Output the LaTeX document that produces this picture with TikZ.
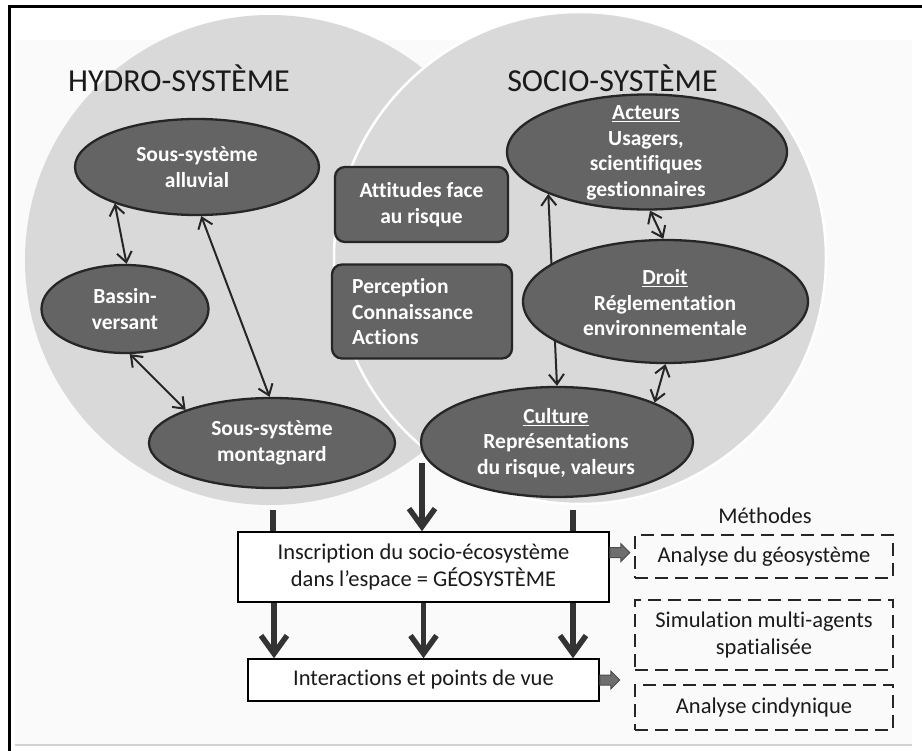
\documentclass[tikz,border=0pt]{standalone}
\usepackage{fontspec}
\setmainfont{Carlito}[Ligatures=NoCommon]
\usetikzlibrary{arrows.meta,calc,shapes.geometric}
\pgfdeclarelayer{bg}
\pgfdeclarelayer{mid}
\pgfsetlayers{bg,mid,main}
\definecolor{circ}{HTML}{D9D9D9}
\definecolor{nodefill}{HTML}{646464}
\definecolor{nodeline}{HTML}{262626}
\definecolor{thickcol}{HTML}{333333}
\definecolor{blockfill}{HTML}{6E6E6E}
\definecolor{txt}{HTML}{1A1A1A}
\begin{document}
\begin{tikzpicture}[x=1pt,y=-1pt,
 ell/.style={ellipse, draw=nodeline, fill=nodefill, line width=2.3pt, inner sep=0pt},
 rbox/.style={rectangle, rounded corners=10pt, draw=nodeline, fill=nodefill, line width=2.3pt, inner sep=0pt},
 wtxt/.style={text=white, font=\bfseries\fontsize{21.5}{25.5}\selectfont, align=center, inner sep=0pt},
 wbox/.style={rectangle, draw=black, fill=white, line width=1.5pt, inner sep=0pt, text=txt, font=\fontsize{22.5}{27}\selectfont, align=center},
 dbox/.style={rectangle, draw=black!85, line width=2.6pt, dash pattern=on 13pt off 7pt, inner sep=0pt, text=txt, font=\fontsize{22.5}{27}\selectfont, align=center},
 plain/.style={text=txt, font=\fontsize{22.5}{27}\selectfont, inner sep=0pt},
 title/.style={text=txt, font=\fontsize{32}{38}\selectfont, inner sep=0pt, anchor=base},
 thinarr/.style={draw=nodeline, line width=2pt, {Straight Barb[length=10pt,width=15pt]}-{Straight Barb[length=10pt,width=15pt]}},
 thickarr/.style={draw=thickcol, line width=5.5pt, -{Straight Barb[length=18pt,width=26pt]}},
 stub/.style={draw=thickcol, line width=5.5pt},
 barrow/.style={fill=blockfill, draw=black!70, line width=1pt},
]
\useasboundingbox (0,0) rectangle (922,751);
\begin{pgfonlayer}{bg}
 \fill[gray!4] (15,40) rectangle (912,744);
 \draw[gray!35, line width=2pt] (15,745) -- (912,745);
 \fill[circ] (270,260) circle[radius=245];
 \draw[white, fill=circ, line width=2.5pt] (580,258) circle[radius=246];
 \draw[black, line width=3pt] (9.5,751) -- (9.5,6.5) -- (922,6.5);
\end{pgfonlayer}

\node[title] (hyd) at (179,92) {HYDRO-SYSTÈME};
\node[title] (soc) at (612.5,92) {SOCIO-SYSTÈME};

\node[ell, minimum width=244pt, minimum height=96pt] (all) at (197,167) {};
\node[wtxt] (all-t) at (all) {Sous-système\\alluvial};
\node[ell, minimum width=167pt, minimum height=88pt] (bas) at (125,309) {};
\node[wtxt] (bas-t) at (bas) {Bassin-\\versant};
\node[ell, minimum width=246pt, minimum height=90pt] (mon) at (272,443) {};
\node[wtxt] (mon-t) at (mon) {Sous-système\\montagnard};

\node[rbox, minimum width=173pt, minimum height=75pt] (att) at (421.5,204.5) {};
\node[wtxt] (att-t) at (att) {Attitudes face\\au risque};
\node[rbox, minimum width=180pt, minimum height=94pt] (per) at (422,311.5) {};
\node[wtxt, align=left, anchor=west] (per-t) at (352,312) {Perception\\Connaissance\\Actions};

\node[ell, minimum width=280pt, minimum height=115pt] (act) at (647,152) {};
\node[wtxt] (act-t) at (646,153) {\underline{Acteurs}\\Usagers,\\scientifiques\\gestionnaires};
\node[ell, minimum width=285pt, minimum height=123pt] (dro) at (665.5,301.5) {};
\node[wtxt] (dro-t) at (665,303) {\underline{Droit}\\Réglementation\\environnementale};
\node[ell, minimum width=272pt, minimum height=110pt] (cul) at (557,442) {};
\node[wtxt] (cul-t) at (556,443) {\underline{Culture}\\Représentations\\du risque, valeurs};

\begin{pgfonlayer}{mid}
 \draw[thinarr] (all.204) -- (bas.88);
 \draw[thinarr] (all.275) -- (mon.93);
 \draw[thinarr] (bas.276) -- (mon.159);
 \draw[thinarr] (act.203) -- (cul.90);
 \draw[thinarr] (act.273) -- (dro.92);
 \draw[thinarr] (dro.270) -- (cul.22);
\end{pgfonlayer}

\node[wbox, minimum width=371pt, minimum height=70pt] (ins) at (423.5,567) {Inscription du socio-écosystème\\dans l’espace = GÉOSYSTÈME};
\node[wbox, minimum width=351pt, minimum height=42pt] (int) at (423.5,680) {Interactions et points de vue};

\node[plain, anchor=base] (met) at (765,523) {Méthodes};
\node[dbox, minimum width=258pt, minimum height=43pt] (m1) at (764,556.5) {Analyse du géosystème};
\node[dbox, minimum width=258pt, minimum height=70pt] (m2) at (764,635) {Simulation multi-agents\\spatialisée};
\node[dbox, minimum width=258pt, minimum height=45pt] (m3) at (764,707.5) {Analyse cindynique};

\coordinate (s1) at (273,510);
\coordinate (s2) at (422,463);
\coordinate (s3) at (573,510);
\draw[stub] (s1) -- (s1 |- ins.north);
\draw[thickarr] (s2) -- (s2 |- ins.north);
\draw[stub] (s3) -- (s3 |- ins.north);
\draw[thickarr] ([xshift=-149.5pt]ins.south) -- ([xshift=-149.5pt]int.north);
\draw[thickarr] (ins.south) -- (int.north);
\draw[thickarr] ([xshift=149.5pt]ins.south) -- ([xshift=149.5pt]int.north);

\coordinate (b1) at ($(ins.north east)!0.3!(ins.south east)$);
\draw[barrow] (b1) ++(0,-5) -- ++(11,0) -- ++(0,-4) -- ++(9,9) -- ++(-9,9) -- ++(0,-4) -- ++(-11,0) -- cycle;
\draw[barrow] (int.east) ++(0,-5) -- ++(11,0) -- ++(0,-4) -- ++(9,9) -- ++(-9,9) -- ++(0,-4) -- ++(-11,0) -- cycle;
\end{tikzpicture}
\end{document}
